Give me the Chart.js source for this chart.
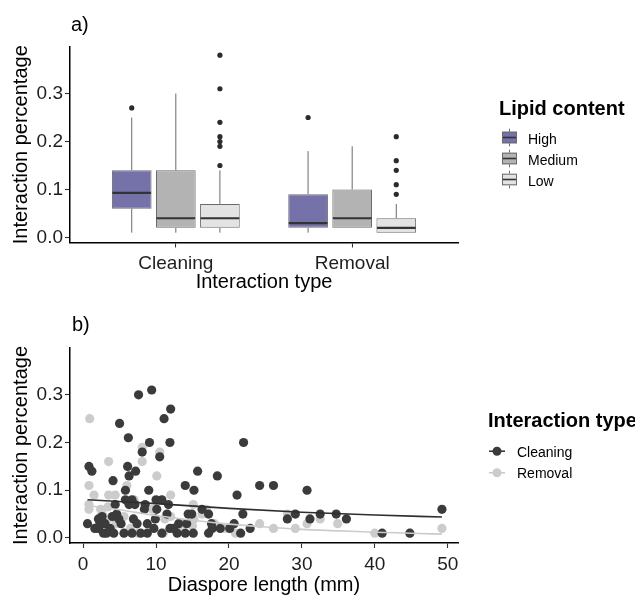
<!DOCTYPE html>
<html><head><meta charset="utf-8">
<script src="https://cdn.jsdelivr.net/npm/chart.js@4/dist/chart.umd.min.js"></script>
<style>
html,body{margin:0;padding:0;background:#fff;}
#wrap{position:relative;width:635px;height:595px;overflow:hidden;}
canvas{position:absolute;left:0;}
#c1{top:0;} #c2{top:300px;}
</style></head><body>
<div id="wrap"><canvas id="c1" width="635" height="300"></canvas><canvas id="c2" width="635" height="295"></canvas></div>
<script>
// ---------- Panel a data (boxplots) ----------
const interactionTypes = ['Cleaning', 'Removal'];
const lipidLevels = ['High', 'Medium', 'Low'];
const boxMin    = { High: [0.01, 0.01],  Medium: [0.01, 0.02], Low: [0.01, 0.01] };
const boxQ1     = { High: [0.06, 0.02],  Medium: [0.02, 0.02], Low: [0.02, 0.01] };
const boxMedian = { High: [0.093, 0.03], Medium: [0.04, 0.04], Low: [0.04, 0.02] };
const boxQ3     = { High: [0.14, 0.09],  Medium: [0.14, 0.10], Low: [0.07, 0.04] };
const boxMax    = { High: [0.25, 0.18],  Medium: [0.30, 0.19], Low: [0.14, 0.07] };
const boxOutliers = {
  High:   [[0.27], [0.25]],
  Medium: [[], []],
  Low:    [[0.38, 0.31, 0.24, 0.21, 0.20, 0.19, 0.15], [0.21, 0.16, 0.14, 0.11, 0.09]]
};
const yTickValues = [0, 0.1, 0.2, 0.3];

// ---------- Panel b data (scatter + fitted lines) ----------
const cleaningX = [0.6,0.8,1.2,2.1,2.1,2.6,2.3,2.8,3.2,3.7,4.0,4.1,4.2,4.4,4.6,4.9,5.0,5.6,5.8,5.8,6.1,6.2,6.3,6.3,6.7,6.7,7.1,7.2,7.6,7.9,8.1,8.4,8.5,8.8,8.8,9.0,9.1,9.4,9.7,10.0,10.1,10.5,10.8,10.8,11.1,11.5,11.7,11.9,11.9,12.0,12.9,13.1,14.0,14.0,14.2,14.4,14.9,15.1,15.2,15.7,16.3,17.2,17.2,17.6,17.7,18.4,18.8,20.1,20.7,21.1,21.6,21.9,22.0,22.9,24.2,26.1,28.0,29.1,30.7,31.1,32.5,34.7,36.1,41.0,44.8,49.2,1.6,3.0,5.2,6.9,7.4,9.9,12.4];
const cleaningY = [0.03,0.15,0.14,0.04,0.02,0.045,0.03,0.01,0.01,0.02,0.045,0.12,0.01,0.07,0.05,0.04,0.24,0.01,0.10,0.08,0.15,0.21,0.13,0.07,0.08,0.01,0.07,0.14,0.30,0.01,0.18,0.06,0.07,0.03,0.01,0.10,0.20,0.31,0.02,0.08,0.06,0.17,0.08,0.01,0.25,0.05,0.07,0.20,0.02,0.27,0.01,0.03,0.11,0.01,0.03,0.05,0.05,0.01,0.10,0.14,0.06,0.05,0.01,0.03,0.02,0.13,0.02,0.02,0.03,0.09,0.01,0.05,0.20,0.02,0.11,0.11,0.04,0.05,0.10,0.04,0.05,0.05,0.04,0.01,0.01,0.06,0.02,0.03,0.03,0.04,0.03,0.04,0.02];
const removalX = [0.8,0.8,0.8,0.9,1.5,2.4,2.6,3.4,3.4,3.5,3.5,4.4,4.5,5.6,6.0,6.5,7.0,8.1,8.1,9.5,10.1,10.5,11.2,12.0,12.0,13.5,15.1,15.2,15.0,16.3,16.9,18.0,19.5,20.9,24.2,26.1,28.0,29.1,30.7,32.5,34.9,40.0,44.8,49.2,7.5,11.0,13.0];
const removalY = [0.06,0.07,0.11,0.25,0.09,0.06,0.05,0.04,0.065,0.16,0.09,0.09,0.03,0.045,0.11,0.02,0.08,0.19,0.16,0.06,0.13,0.18,0.04,0.09,0.045,0.03,0.07,0.04,0.025,0.05,0.06,0.03,0.02,0.01,0.03,0.02,0.05,0.02,0.03,0.04,0.03,0.01,0.01,0.02,0.01,0.01,0.02];
const cleaningFitX = [0.6, 10, 20, 30, 40, 49.2];
const cleaningFitY = [0.080, 0.072, 0.062, 0.054, 0.048, 0.044];
const removalFitX = [0.6, 5, 10, 15, 20, 25, 30, 35, 40, 45, 49.2];
const removalFitY = [0.068, 0.059, 0.047, 0.037, 0.029, 0.023, 0.018, 0.015, 0.012, 0.010, 0.008];
const xTickValues = [0, 10, 20, 30, 40, 50];

// ---------- styling ----------
const FONT = "'Liberation Sans', Arial, sans-serif";
const lipidColors = { High: '#7572aa', Medium: '#b3b3b3', Low: '#e3e3e3' };
const BOX_BORDER = '#6a6a6a';
const DARK = '#3b3b3b', LIGHT = '#cccccc';
const TICK_TEXT = '#1e1e1e';

function yAxis(){
  return {
    type: 'linear', min: -0.0105, max: 0.397,
    afterBuildTicks: s => { s.ticks = yTickValues.map(v => ({ value: v })); },
    afterFit: s => { s.width = 70; },
    border: { display: true, color: '#000', width: 1.5 },
    grid: { display: true, drawOnChartArea: false, drawTicks: true, tickLength: 5, tickColor: '#333', tickWidth: 1.1 },
    ticks: { color: TICK_TEXT, padding: 2, font: { family: FONT, size: 19 }, callback: v => v.toFixed(1) },
    title: { display: true, text: 'Interaction percentage', color: '#000',
             font: { family: FONT, size: 20, lineHeight: 1 }, padding: { top: 11.5, bottom: 0 } }
  };
}

// ---------- Panel a ----------
const boxPlugin = {
  id: 'boxExtras',
  beforeDatasetsDraw(chart){
    const ctx = chart.ctx, y = chart.scales.y;
    lipidLevels.forEach((lvl, di) => {
      chart.getDatasetMeta(di).data.forEach((bar, i) => {
        ctx.save();
        ctx.strokeStyle = BOX_BORDER; ctx.lineWidth = 1;
        ctx.beginPath();
        ctx.moveTo(bar.x, y.getPixelForValue(boxQ3[lvl][i])); ctx.lineTo(bar.x, y.getPixelForValue(boxMax[lvl][i]));
        ctx.moveTo(bar.x, y.getPixelForValue(boxQ1[lvl][i])); ctx.lineTo(bar.x, y.getPixelForValue(boxMin[lvl][i]));
        ctx.stroke();
        ctx.restore();
      });
    });
  },
  afterDatasetsDraw(chart){
    const ctx = chart.ctx, y = chart.scales.y;
    lipidLevels.forEach((lvl, di) => {
      chart.getDatasetMeta(di).data.forEach((bar, i) => {
        const half = bar.width / 2;
        ctx.save();
        ctx.strokeStyle = '#333'; ctx.lineWidth = 2.2;
        const my = y.getPixelForValue(boxMedian[lvl][i]);
        ctx.beginPath(); ctx.moveTo(bar.x - half + 0.5, my); ctx.lineTo(bar.x + half - 0.5, my); ctx.stroke();
        ctx.fillStyle = '#2b2b2b';
        boxOutliers[lvl][i].forEach(v => {
          ctx.beginPath(); ctx.arc(bar.x, y.getPixelForValue(v), 2.6, 0, Math.PI * 2); ctx.fill();
        });
        ctx.restore();
      });
    });
  },
  afterDraw(chart){
    const ctx = chart.ctx;
    ctx.save();
    ctx.fillStyle = '#000'; ctx.textBaseline = 'alphabetic'; ctx.textAlign = 'left';
    ctx.font = '20px ' + FONT;
    ctx.fillText('a)', 71, 31);
    ctx.font = 'bold 20px ' + FONT;
    ctx.fillText('Lipid content', 499, 115);
    const baselines = [144, 165, 186];
    lipidLevels.forEach((lvl, k) => {
      const b = baselines[k];
      const top = b - 12.3, bot = b - 0.7, cx = 509.5;
      ctx.strokeStyle = BOX_BORDER; ctx.lineWidth = 1;
      ctx.beginPath(); ctx.moveTo(cx, top - 3); ctx.lineTo(cx, top); ctx.moveTo(cx, bot); ctx.lineTo(cx, bot + 3); ctx.stroke();
      ctx.fillStyle = lipidColors[lvl];
      ctx.fillRect(502, top, 15, bot - top);
      ctx.strokeRect(502.5, top + 0.5, 14, bot - top - 1);
      ctx.strokeStyle = '#333'; ctx.lineWidth = 1.6;
      ctx.beginPath(); ctx.moveTo(503, (top + bot) / 2); ctx.lineTo(516, (top + bot) / 2); ctx.stroke();
      ctx.fillStyle = '#000'; ctx.font = '14px ' + FONT;
      ctx.fillText(lvl, 528, b);
    });
    ctx.restore();
  }
};

new Chart(document.getElementById('c1'), {
  type: 'bar',
  data: {
    datasets: lipidLevels.map(lvl => ({
      label: lvl,
      data: interactionTypes.map((t, i) => ({ x: i + 1, y: [boxQ1[lvl][i], boxQ3[lvl][i]] })),
      backgroundColor: lipidColors[lvl],
      borderColor: BOX_BORDER,
      borderWidth: 1,
      borderSkipped: false,
      categoryPercentage: 0.75,
      barPercentage: 0.9
    }))
  },
  options: {
    responsive: false, devicePixelRatio: 1, animation: false, events: [],
    layout: { padding: { left: 0, top: 47, right: 177, bottom: 0 } },
    plugins: { legend: { display: false }, tooltip: { enabled: false } },
    scales: {
      x: {
        type: 'linear', min: 0.4, max: 2.6, offset: false,
        afterBuildTicks: s => { s.ticks = interactionTypes.map((t, i) => ({ value: i + 1 })); },
        afterFit: s => { s.height = 57.5; },
        border: { display: true, color: '#000', width: 1.5 },
        grid: { display: true, offset: false, drawOnChartArea: false, drawTicks: true, tickLength: 5, tickColor: '#333', tickWidth: 1.1 },
        ticks: { color: TICK_TEXT, padding: 4.5, font: { family: FONT, size: 19 }, maxRotation: 0,
                 callback: v => interactionTypes[Math.round(v) - 1] },
        title: { display: true, text: 'Interaction type', color: '#000',
                 font: { family: FONT, size: 20, lineHeight: 1 }, padding: { top: 0, bottom: 7.5 } }
      },
      y: yAxis()
    }
  },
  plugins: [boxPlugin]
});

// ---------- Panel b ----------
const scatterPlugin = {
  id: 'scatterExtras',
  afterDraw(chart){
    const ctx = chart.ctx;
    ctx.save();
    ctx.fillStyle = '#000'; ctx.textBaseline = 'alphabetic'; ctx.textAlign = 'left';
    ctx.font = '20px ' + FONT;
    ctx.fillText('b)', 72, 30.5);
    ctx.font = 'bold 20px ' + FONT;
    ctx.fillText('Interaction type', 488, 127);
    const items = [['Cleaning', DARK, 156.7], ['Removal', LIGHT, 178.3]];
    items.forEach(([name, col, b]) => {
      const cy = b - 5.5;
      ctx.strokeStyle = col; ctx.lineWidth = 1.6;
      ctx.beginPath(); ctx.moveTo(489, cy); ctx.lineTo(505, cy); ctx.stroke();
      ctx.fillStyle = col;
      ctx.beginPath(); ctx.arc(497, cy, 4.5, 0, Math.PI * 2); ctx.fill();
      ctx.fillStyle = '#000'; ctx.font = '14px ' + FONT;
      ctx.fillText(name, 517, b);
    });
    ctx.restore();
  }
};

const toPts = (xs, ys) => xs.map((x, i) => ({ x: x, y: ys[i] }));

new Chart(document.getElementById('c2'), {
  type: 'scatter',
  data: {
    datasets: [
      { label: 'Cleaning fit', type: 'line', data: toPts(cleaningFitX, cleaningFitY), borderColor: '#2e2e2e', borderWidth: 1.6, pointRadius: 0, fill: false, cubicInterpolationMode: 'monotone' },
      { label: 'Removal fit', type: 'line', data: toPts(removalFitX, removalFitY), borderColor: LIGHT, borderWidth: 1.6, pointRadius: 0, fill: false, cubicInterpolationMode: 'monotone' },
      { label: 'Cleaning', data: toPts(cleaningX, cleaningY), backgroundColor: DARK, borderColor: DARK, borderWidth: 0, pointRadius: 4.6 },
      { label: 'Removal', data: toPts(removalX, removalY), backgroundColor: LIGHT, borderColor: LIGHT, borderWidth: 0, pointRadius: 4.6 }
    ]
  },
  options: {
    responsive: false, devicePixelRatio: 1, animation: false, events: [],
    layout: { padding: { left: 0, top: 48, right: 177, bottom: 0 } },
    plugins: { legend: { display: false }, tooltip: { enabled: false } },
    scales: {
      x: {
        type: 'linear', min: -1.8, max: 51.4,
        afterBuildTicks: s => { s.ticks = xTickValues.map(v => ({ value: v })); },
        afterFit: s => { s.height = 52; },
        border: { display: true, color: '#000', width: 1.5 },
        grid: { display: true, drawOnChartArea: false, drawTicks: true, tickLength: 5, tickColor: '#333', tickWidth: 1.1 },
        ticks: { color: TICK_TEXT, padding: 5, font: { family: FONT, size: 19 }, maxRotation: 0, callback: v => String(v) },
        title: { display: true, text: 'Diaspore length (mm)', color: '#000',
                 font: { family: FONT, size: 20, lineHeight: 1 }, padding: { top: 0, bottom: 0 } }
      },
      y: Object.assign(yAxis(), { min: -0.0105, max: 0.398 })
    }
  },
  plugins: [scatterPlugin]
});
</script>
</body></html>
